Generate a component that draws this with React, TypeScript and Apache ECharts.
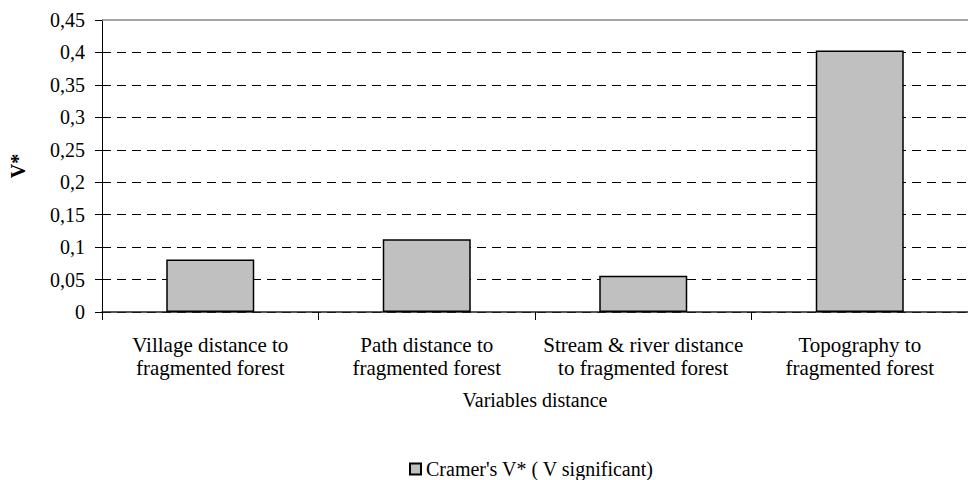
import React, { useEffect, useRef } from "react";
import * as echarts from "echarts";

const categories = [
  "Village distance to\nfragmented forest",
  "Path distance to\nfragmented forest",
  "Stream & river distance\nto fragmented forest",
  "Topography to\nfragmented forest",
];
const values = [0.081, 0.112, 0.056, 0.403];
const seriesName = "Cramer's V* ( V significant)";
const yAxisTitle = "V*";
const xAxisTitle = "Variables distance";

const FONT = "Times New Roman, Liberation Serif, DejaVu Serif, serif";

export default function App() {
  const ref = useRef<HTMLDivElement>(null);
  useEffect(() => {
    if (!ref.current) return;
    const chart = echarts.init(ref.current, null, { renderer: "svg" });
    chart.setOption({
      animation: false,
      textStyle: { fontFamily: FONT },
      grid: { left: 96, top: 20, width: 883, bottom: 168, containLabel: false },
      legend: {
        data: [seriesName],
        top: 454,
        left: 404,
        icon: "rect",
        itemWidth: 11,
        itemHeight: 11,
        itemGap: 4,
        textStyle: { fontFamily: FONT, fontSize: 20, color: "#000" },
      },
      xAxis: {
        type: "category",
        data: categories,
        name: xAxisTitle,
        nameLocation: "middle",
        nameGap: 78,
        nameTextStyle: { fontFamily: FONT, fontSize: 20, color: "#000" },
        axisLine: { lineStyle: { color: "#222", width: 1.5 } },
        axisTick: { show: true, interval: 0, length: 8, lineStyle: { color: "#000" } },
        axisLabel: {
          interval: 0,
          margin: 21,
          fontFamily: FONT,
          fontSize: 21,
          lineHeight: 23,
          color: "#000",
        },
      },
      yAxis: {
        type: "value",
        min: 0,
        max: 0.45,
        interval: 0.05,
        name: yAxisTitle,
        nameLocation: "middle",
        nameGap: 74,
        nameRotate: 90,
        nameTextStyle: { fontFamily: FONT, fontSize: 20, fontWeight: "bold", color: "#000" },
        axisLine: { show: true, lineStyle: { color: "#000", width: 1 } },
        axisTick: { show: true, length: 7, lineStyle: { color: "#000" } },
        axisLabel: {
          margin: 17,
          fontFamily: FONT,
          fontSize: 20,
          color: "#000",
          formatter: (v: number) => String(Math.round(v * 100) / 100).replace(".", ","),
        },
        splitLine: {
          show: true,
          showMaxLine: false,
          lineStyle: { color: "#000", type: [9, 6], width: 1 },
        },
      },
      series: [
        {
          name: seriesName,
          type: "bar",
          data: values,
          barWidth: 88,
          itemStyle: { color: "#c0c0c0", borderColor: "#000", borderWidth: 1.5 },
          markLine: {
            silent: true,
            symbol: "none",
            label: { show: false },
            lineStyle: { color: "#888", type: "solid", width: 1.5 },
            data: [{ yAxis: 0.45 }],
          },
        },
      ],
    });
    return () => chart.dispose();
  }, []);
  return (
    <div
      ref={ref}
      style={{ position: "absolute", left: 0, top: 0, width: 968, height: 480 }}
    />
  );
}
